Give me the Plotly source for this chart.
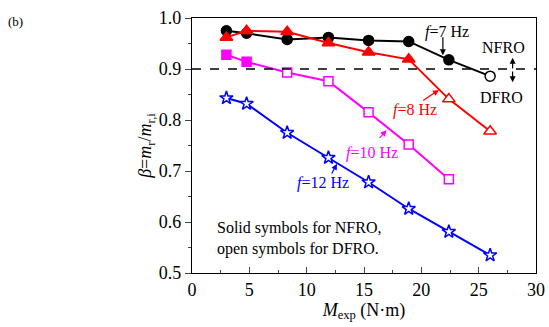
import plotly.graph_objects as go

# Data
m_exp = [3.0, 4.76, 8.3, 11.9, 15.4, 18.9, 22.4, 26.0]
beta_7hz = [0.975, 0.970, 0.958, 0.962, 0.956, 0.954, 0.918, 0.886]
open_7hz = [False, False, False, False, False, False, False, True]
beta_8hz = [0.962, 0.975, 0.973, 0.951, 0.933, 0.919, 0.841, 0.778]
open_8hz = [False, False, False, False, False, False, True, True]
beta_10hz = [0.928, 0.914, 0.893, 0.876, 0.815, 0.752, 0.684]
open_10hz = [False, False, True, True, True, True, True]
beta_12hz = [0.843, 0.832, 0.775, 0.726, 0.678, 0.626, 0.581, 0.535]
threshold = 0.9

x_ticks = [0, 5, 10, 15, 20, 25, 30]
y_ticks = [0.5, 0.6, 0.7, 0.8, 0.9, 1.0]

FONT = "Liberation Serif"

fig = go.Figure()

def add_series(y, opens, color, symbol, size):
    n = len(y)
    fills = ["white" if o else color for o in opens]
    fig.add_trace(go.Scatter(
        x=m_exp[:n], y=y, mode="lines+markers",
        line=dict(color=color, width=2),
        marker=dict(symbol=symbol, size=size, color=fills,
                    line=dict(color=color, width=1.5)),
        showlegend=False, cliponaxis=False))

add_series(beta_7hz, open_7hz, "black", "circle", 10)
add_series(beta_8hz, open_8hz, "#ff0000", "triangle-up", 11)
add_series(beta_10hz, open_10hz, "#ff00ff", "square", 9)
add_series(beta_12hz, [True] * len(beta_12hz), "#0000ff", "star", 10)

fig.add_shape(type="line", xref="x", yref="y", x0=0, x1=30, y0=threshold, y1=threshold,
              line=dict(color="black", width=1.5, dash="dash"))

ann = []
def txt(x, y, s, color, size=16, **kw):
    ann.append(dict(x=x, y=y, xref="x", yref="y", text=s, showarrow=False,
                    font=dict(family=FONT, size=size, color=color), **kw))

def arrow(x0, y0, x1, y1, color):
    ann.append(dict(x=x1, y=y1, ax=x0, ay=y0, xref="x", yref="y", axref="x", ayref="y",
                    text="", showarrow=True, arrowhead=2, arrowsize=1, arrowwidth=1.2,
                    arrowcolor=color))

txt(22.2, 0.973, "<i>f</i>=7 Hz", "black")
arrow(21.88, 0.965, 21.88, 0.927, "black")
txt(27.2, 0.943, "NFRO", "black")
txt(27.0, 0.845, "DFRO", "black")
arrow(27.96, 0.898, 27.96, 0.922, "black")
arrow(27.96, 0.898, 27.96, 0.874, "black")
txt(19.44, 0.820, "<i>f</i>=8 Hz", "#ff0000")
arrow(20.03, 0.836, 21.53, 0.859, "#ff0000")
txt(15.7, 0.735, "<i>f</i>=10 Hz", "#ff00ff")
arrow(16.24, 0.762, 16.97, 0.780, "#ff00ff")
txt(11.42, 0.676, "<i>f</i>=12 Hz", "#0000ff")
arrow(12.12, 0.692, 12.64, 0.714, "#0000ff")
txt(2.0, 0.567, "Solid symbols for NFRO,<br>open symbols for DFRO.", "black",
    xanchor="left", align="left")
ann.append(dict(x=-0.54, y=1.024, xref="paper", yref="paper", text="(b)", showarrow=False,
                font=dict(family=FONT, size=13, color="black")))

fig.update_layout(
    width=549, height=327, autosize=False,
    margin=dict(l=192, r=13, t=18, b=54, autoexpand=False),
    paper_bgcolor="white", plot_bgcolor="white",
    font=dict(family=FONT, size=18, color="black"),
    annotations=ann,
    xaxis=dict(range=[0, 30], tickvals=x_ticks, ticks="inside", ticklen=6, tickwidth=1.2,
               minor=dict(ticks="inside", ticklen=3, dtick=2.5, tickwidth=1.2),
               showline=True, linecolor="black", linewidth=1.2, mirror=True,
               showgrid=False, zeroline=False, automargin=False,
               title=dict(text="<i>M</i><sub>exp</sub> (N·m)", font=dict(size=18), standoff=2)),
    yaxis=dict(range=[0.5, 1.0], tickvals=y_ticks, tickformat=".1f",
               ticks="outside", ticklen=6, tickwidth=1.2,
               minor=dict(ticks="outside", ticklen=3, dtick=0.05, tickwidth=1.2),
               showline=True, linecolor="black", linewidth=1.2, mirror=True,
               showgrid=False, zeroline=False, automargin=False,
               title=dict(text="<i>β</i>=<i>m</i><sub>r</sub>/<i>m</i><sub>r,i</sub>",
                          font=dict(size=18), standoff=2)),
)

fig.write_html("out.html", config={"responsive": False})
